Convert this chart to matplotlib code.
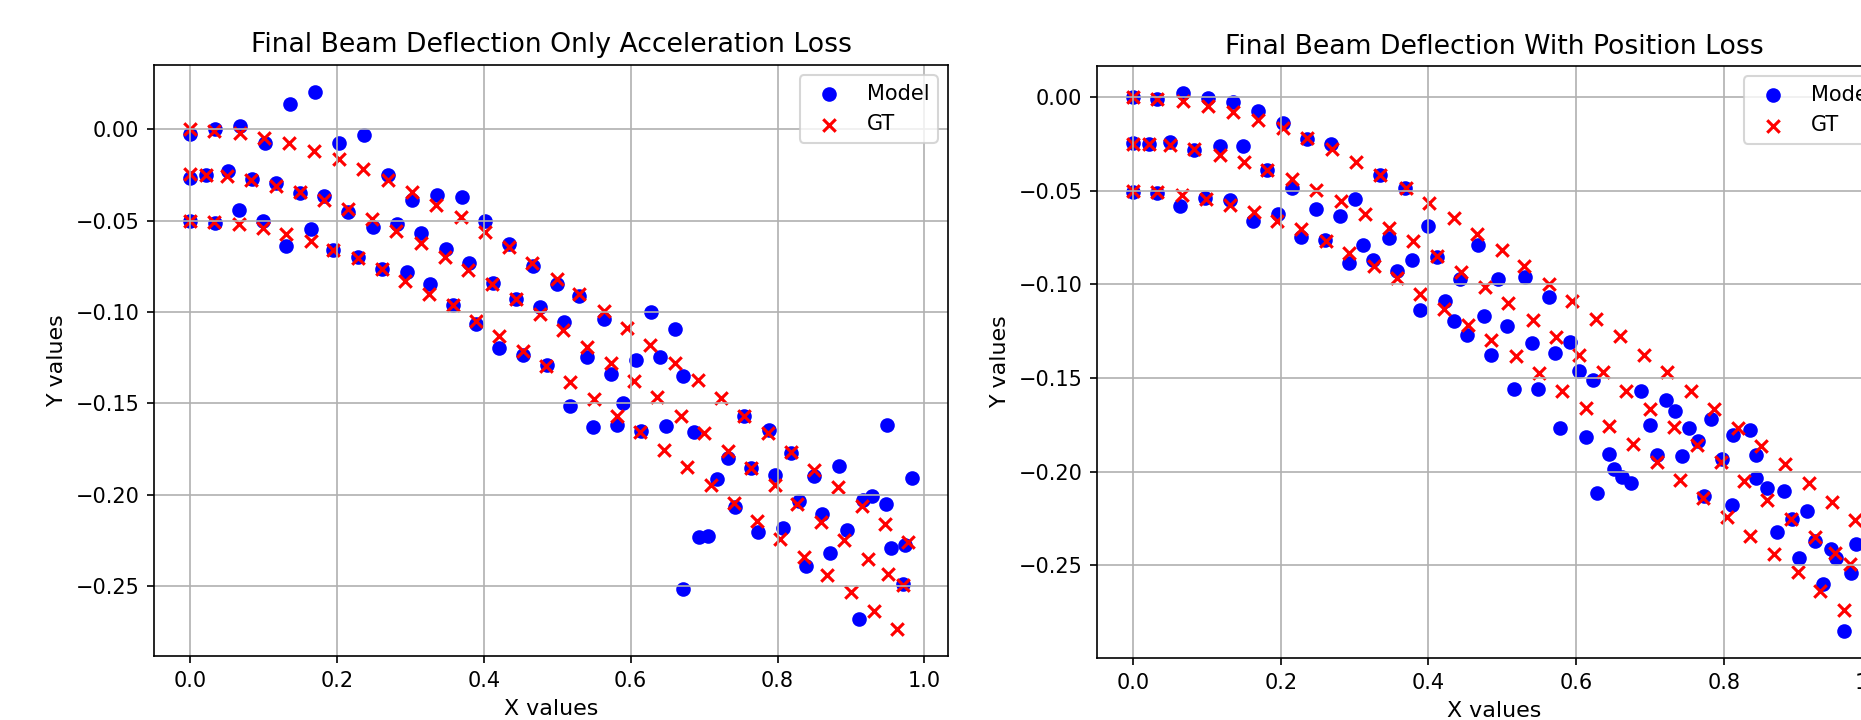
import matplotlib
matplotlib.use("Agg")
import matplotlib.pyplot as plt

# Ground-truth node positions (same in both panels), three beam rows
gt_top_x = [0.000, 0.033, 0.068, 0.101, 0.135, 0.169, 0.203, 0.236, 0.269, 0.302, 0.335,
            0.369, 0.401, 0.434, 0.466, 0.499, 0.530, 0.563, 0.595, 0.627, 0.660, 0.692,
            0.723, 0.755, 0.787, 0.819, 0.850, 0.883, 0.915, 0.946, 0.978]
gt_top_y = [0.000, -0.0010, -0.0022, -0.0046, -0.0078, -0.0121, -0.0166, -0.0220, -0.0279,
            -0.0344, -0.0414, -0.0483, -0.0565, -0.0645, -0.0731, -0.0818, -0.0902, -0.0995,
            -0.1088, -0.1182, -0.1277, -0.1374, -0.1470, -0.1569, -0.1664, -0.1766, -0.1864,
            -0.1960, -0.2061, -0.2159, -0.2258]
gt_mid_x = [0.000, 0.022, 0.050, 0.083, 0.117, 0.150, 0.182, 0.215, 0.248, 0.281, 0.314,
            0.347, 0.379, 0.411, 0.444, 0.476, 0.508, 0.541, 0.573, 0.604, 0.636, 0.668,
            0.700, 0.732, 0.764, 0.796, 0.827, 0.859, 0.891, 0.923, 0.951, 0.971]
gt_mid_y = [-0.0248, -0.0250, -0.0256, -0.0277, -0.0311, -0.0344, -0.0389, -0.0438, -0.0494,
            -0.0555, -0.0621, -0.0699, -0.0770, -0.0848, -0.0931, -0.1014, -0.1101, -0.1191,
            -0.1280, -0.1377, -0.1468, -0.1567, -0.1664, -0.1759, -0.1855, -0.1949, -0.2049,
            -0.2150, -0.2250, -0.2350, -0.2436, -0.2493]
gt_bot_x = [0.000, 0.033, 0.066, 0.099, 0.131, 0.164, 0.195, 0.228, 0.261, 0.293, 0.326,
            0.358, 0.389, 0.421, 0.453, 0.485, 0.518, 0.550, 0.581, 0.613, 0.645, 0.677,
            0.709, 0.741, 0.772, 0.804, 0.836, 0.868, 0.900, 0.931, 0.963]
gt_bot_y = [-0.0500, -0.0506, -0.0521, -0.0541, -0.0574, -0.0614, -0.0662, -0.0706, -0.0768,
            -0.0833, -0.0902, -0.0965, -0.1052, -0.1131, -0.1214, -0.1296, -0.1382, -0.1474,
            -0.1567, -0.1659, -0.1757, -0.1851, -0.1949, -0.2045, -0.2142, -0.2241, -0.2342,
            -0.2441, -0.2533, -0.2637, -0.2736]

gt_x = gt_top_x + gt_mid_x + gt_bot_x
gt_y = gt_top_y + gt_mid_y + gt_bot_y

# Model prediction, acceleration loss only
acc_x = [0.000, 0.034, 0.068, 0.102, 0.136, 0.170, 0.203, 0.237, 0.270, 0.302, 0.336, 0.370,
         0.402, 0.434, 0.467,
         0.000, 0.022, 0.051, 0.084, 0.117, 0.150, 0.182, 0.215, 0.249, 0.282, 0.315, 0.348,
         0.380, 0.412, 0.444, 0.477,
         0.000, 0.034, 0.067, 0.099, 0.130, 0.165, 0.195, 0.228, 0.262, 0.295, 0.327, 0.358,
         0.390, 0.421, 0.454,
         0.486, 0.499, 0.509, 0.517, 0.530, 0.541, 0.549, 0.563, 0.573, 0.581, 0.590, 0.607,
         0.614, 0.628, 0.640, 0.648, 0.661, 0.671, 0.686, 0.671, 0.693, 0.705, 0.718, 0.732,
         0.742, 0.755, 0.764, 0.774, 0.788, 0.797, 0.807, 0.819, 0.829, 0.839, 0.850, 0.861,
         0.871, 0.884, 0.894, 0.911, 0.916, 0.929, 0.948, 0.949, 0.954, 0.973, 0.971, 0.983]
acc_y = [-0.0027, 0.0000, 0.0018, -0.0078, 0.0136, 0.0204, -0.0076, -0.0033, -0.0250, -0.0390,
         -0.0360, -0.0370, -0.0500, -0.0630, -0.0750,
         -0.0267, -0.0250, -0.0227, -0.0273, -0.0296, -0.0350, -0.0367, -0.0454, -0.0533,
         -0.0520, -0.0570, -0.0654, -0.0732, -0.0842, -0.0927, -0.0972,
         -0.0500, -0.0514, -0.0442, -0.0500, -0.0640, -0.0545, -0.0663, -0.0700, -0.0767,
         -0.0780, -0.0845, -0.0960, -0.1065, -0.1200, -0.1236,
         -0.1290, -0.0845, -0.1054, -0.1514, -0.0914, -0.1249, -0.1632, -0.1041, -0.1341,
         -0.1618, -0.1496, -0.1263, -0.1650, -0.1000, -0.1245, -0.1627, -0.1096, -0.1350,
         -0.1658, -0.2514, -0.2230, -0.2226, -0.1914, -0.1799, -0.2068, -0.1568, -0.1854,
         -0.2205, -0.1645, -0.1890, -0.2181, -0.1772, -0.2036, -0.2390, -0.1899, -0.2105,
         -0.2317, -0.1845, -0.2194, -0.2681, -0.2027, -0.2005, -0.2050, -0.1618, -0.2290,
         -0.2276, -0.2490, -0.1908]

# Model prediction, with position loss
pos_x = [0.000, 0.033, 0.068, 0.101, 0.135, 0.169, 0.203, 0.235, 0.268, 0.335, 0.368, 0.467,
         0.000, 0.022, 0.050, 0.083, 0.117, 0.149, 0.182, 0.215, 0.248, 0.280, 0.301, 0.346,
         0.378, 0.400, 0.412, 0.443, 0.494,
         0.000, 0.033, 0.063, 0.098, 0.131, 0.162, 0.196, 0.228, 0.260, 0.292, 0.312, 0.325,
         0.357, 0.388, 0.423, 0.434, 0.452, 0.475, 0.485,
         0.531, 0.563, 0.507, 0.540, 0.592, 0.572, 0.516, 0.549, 0.604, 0.578, 0.613, 0.623,
         0.629, 0.645, 0.651, 0.662, 0.674, 0.688, 0.700, 0.710, 0.722, 0.734, 0.743, 0.753,
         0.765, 0.773, 0.783, 0.798, 0.811, 0.813, 0.835, 0.844, 0.844, 0.859, 0.872, 0.881,
         0.892, 0.902, 0.913, 0.924, 0.934, 0.945, 0.952, 0.963, 0.972, 0.979]
pos_y = [0.0000, -0.0012, 0.0023, -0.0003, -0.0027, -0.0075, -0.0137, -0.0222, -0.0249,
         -0.0418, -0.0486, -0.0791,
         -0.0245, -0.0249, -0.0240, -0.0281, -0.0263, -0.0261, -0.0391, -0.0486, -0.0596,
         -0.0635, -0.0542, -0.0752, -0.0871, -0.0690, -0.0854, -0.0969, -0.0969,
         -0.0507, -0.0512, -0.0582, -0.0537, -0.0548, -0.0662, -0.0626, -0.0747, -0.0765,
         -0.0886, -0.0791, -0.0871, -0.0928, -0.1134, -0.1090, -0.1197, -0.1272, -0.1170,
         -0.1375,
         -0.0962, -0.1067, -0.1221, -0.1314, -0.1306, -0.1368, -0.1556, -0.1556, -0.1461,
         -0.1766, -0.1817, -0.1512, -0.2113, -0.1903, -0.1988, -0.2027, -0.2058, -0.1569,
         -0.1752, -0.1912, -0.1617, -0.1673, -0.1917, -0.1764, -0.1836, -0.2131, -0.1719,
         -0.1933, -0.2180, -0.1805, -0.1779, -0.1912, -0.2031, -0.2088, -0.2323, -0.2102,
         -0.2250, -0.2459, -0.2210, -0.2371, -0.2597, -0.2410, -0.2462, -0.2851, -0.2540,
         -0.2388]

W, H, DPI = 1861, 720, 150
fig = plt.figure(figsize=(W / DPI, H / DPI), dpi=DPI)

# (title, model x, model y, axes box in pixels: left, top, right, bottom)
panels = [
    ("Final Beam Deflection Only Acceleration Loss", acc_x, acc_y, (154, 65, 948, 656)),
    ("Final Beam Deflection With Position Loss", pos_x, pos_y, (1097, 66, 1892, 658)),
]

for title, mx, my, (l, t, r, b) in panels:
    ax = fig.add_axes([l / W, 1 - b / H, (r - l) / W, (b - t) / H])
    ax.scatter(mx, my, color="blue", label="Model")
    ax.scatter(gt_x, gt_y, color="red", marker="x", label="GT")
    ax.set_title(title, fontsize=12.8)
    ax.set_xlabel("X values", fontsize=10.6)
    ax.set_ylabel("Y values", fontsize=10.6)
    ax.legend(loc="upper right")
    ax.grid(True)

fig.savefig("out.png", dpi=DPI)
